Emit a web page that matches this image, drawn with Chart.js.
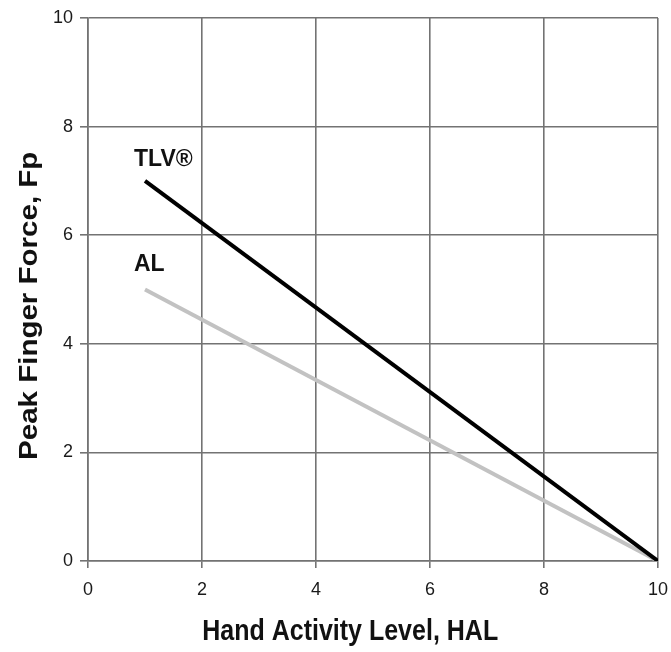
<!DOCTYPE html>
<html>
<head>
<meta charset="utf-8">
<script src="https://cdn.jsdelivr.net/npm/chart.js@4"></script>
<style>
  html, body { margin: 0; padding: 0; background: #fff; }
  #wrap { width: 671px; height: 652px; }
</style>
</head>
<body>
<div id="wrap"><canvas id="c" width="671" height="652"></canvas></div>
<script>
const halValues = [1, 10];
const tlvValues = [7, 0];
const alValues = [5, 0];
const seriesLabels = ["TLV®", "AL"];
const labelPoints = [[1, 7.4], [1, 5.45]];
const xTitle = "Hand Activity Level, HAL";
const yTitle = "Peak Finger Force, Fp";

const gridColor = "#737373";
const fontFamily = "'Liberation Sans', Arial, sans-serif";

// series names next to the start of each line
const lineLabels = {
  id: "lineLabels",
  afterDatasetsDraw(chart) {
    const { ctx, scales } = chart;
    ctx.save();
    ctx.font = "bold 23px " + fontFamily;
    ctx.fillStyle = "#111";
    ctx.textBaseline = "middle";
    ctx.textAlign = "left";
    seriesLabels.forEach((t, i) => {
      const x = scales.x.getPixelForValue(labelPoints[i][0]) - 11;
      const y = scales.y.getPixelForValue(labelPoints[i][1]);
      ctx.fillText(t, x, y);
    });
    ctx.restore();
  }
};

// axis titles, a bit taller than wide like the original
const axisTitles = {
  id: "axisTitles",
  afterDraw(chart) {
    const { ctx, chartArea } = chart;
    const stretch = 1.18;
    ctx.save();
    ctx.font = "bold 25px " + fontFamily;
    ctx.fillStyle = "#111";
    ctx.textAlign = "center";
    ctx.textBaseline = "middle";

    const xc = chartArea.left + chartArea.width * 0.46;
    ctx.save();
    ctx.translate(xc, 632);
    ctx.scale(1, stretch);
    ctx.fillText(xTitle, 0, 0);
    ctx.restore();

    const yc = chartArea.top + chartArea.height * 0.53;
    ctx.save();
    ctx.translate(30, yc);
    ctx.scale(1, stretch);
    ctx.rotate(-Math.PI / 2);
    ctx.fillText(yTitle, 0, 0);
    ctx.restore();

    ctx.restore();
  }
};

new Chart(document.getElementById("c").getContext("2d"), {
  type: "line",
  data: {
    datasets: [
      {
        label: seriesLabels[0],
        data: halValues.map((x, i) => ({ x: x, y: tlvValues[i] })),
        borderColor: "#000",
        borderWidth: 4,
        pointRadius: 0,
        tension: 0,
      },
      {
        label: seriesLabels[1],
        data: halValues.map((x, i) => ({ x: x, y: alValues[i] })),
        borderColor: "#c2c2c2",
        borderWidth: 4,
        pointRadius: 0,
        tension: 0,
      },
    ],
  },
  options: {
    responsive: false,
    animation: false,
    layout: { padding: { top: 18, right: 13, left: 0, bottom: 0 } },
    plugins: {
      legend: { display: false },
      tooltip: { enabled: false },
    },
    scales: {
      x: {
        type: "linear",
        min: 0,
        max: 10,
        ticks: {
          stepSize: 2,
          color: "#1a1a1a",
          padding: 11,
          maxRotation: 0,
          font: { family: fontFamily, size: 18 },
        },
        grid: { color: gridColor, lineWidth: 1.6, tickLength: 7 },
        border: { color: gridColor, width: 1.6 },
        afterFit(scale) {
          scale.height = 91;
          scale.paddingLeft = 0;
          scale.paddingRight = 0;
        },
      },
      y: {
        type: "linear",
        min: 0,
        max: 10,
        ticks: {
          stepSize: 2,
          color: "#1a1a1a",
          padding: 7,
          font: { family: fontFamily, size: 18 },
        },
        grid: { color: gridColor, lineWidth: 1.6, tickLength: 8 },
        border: { color: gridColor, width: 1.6 },
        afterFit(scale) {
          scale.width = 88;
          scale.paddingTop = 0;
          scale.paddingBottom = 0;
        },
      },
    },
  },
  plugins: [lineLabels, axisTitles],
});
</script>
</body>
</html>
